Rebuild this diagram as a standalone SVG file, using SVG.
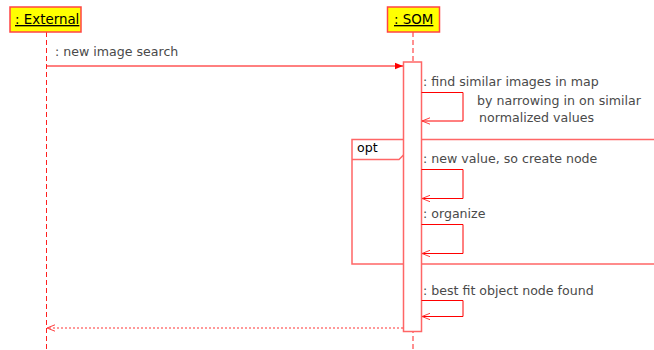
<svg xmlns="http://www.w3.org/2000/svg" width="654" height="350" viewBox="0 0 654 350">
<style>
text{font-family:"DejaVu Sans",sans-serif;font-size:12.6px;fill:#4a4a4a}
.obj{fill:#ffff00;stroke:#ff4444;stroke-width:1.5}
.objt{fill:#000;font-size:13.4px;text-decoration:underline}
.life{stroke:#ff2020;stroke-width:1;stroke-dasharray:5,3;fill:none}
.act{fill:#fff;stroke:#ff6666;stroke-width:1.5}
.msg{stroke:#ff0000;stroke-width:1;fill:none}
.ret{stroke:#ff3333;stroke-width:1;stroke-dasharray:2,2;fill:none}
.frame{fill:none;stroke:#ff6666;stroke-width:1.5}
</style>
<defs>
<marker id="filled" viewBox="0 0 10 10" refX="10" refY="5" markerWidth="8" markerHeight="8" markerUnits="userSpaceOnUse" orient="auto"><path d="M0,1 L10,5 L0,9 z" fill="#ff0000"/></marker>
<marker id="open" viewBox="0 0 10 10" refX="10" refY="5" markerWidth="8" markerHeight="8" markerUnits="userSpaceOnUse" orient="auto"><path d="M0,1 L10,5 L0,9" fill="none" stroke="#ff3333" stroke-width="1.2"/></marker>
</defs>
<g id="external">
<line class="life" x1="46.5" y1="32" x2="46.5" y2="350"/>
<rect class="obj" x="10" y="7" width="71" height="25"/>
<text class="objt" x="15" y="24">: External</text>
</g>
<g id="som">
<line class="life" x1="413" y1="32" x2="413" y2="350"/>
<rect class="obj" x="387.5" y="7" width="52" height="25"/>
<text class="objt" x="394" y="24">: SOM</text>
</g>
<g id="opt">
<path class="frame" d="M654,139.5 H352 V264 H654"/>
<path class="frame" d="M352,159.5 H399 L409,149.5 V139.5"/>
<text x="357" y="152" style="fill:#000">opt</text>
</g>
<g id="activation">
<rect class="act" x="403.5" y="62" width="18" height="269.5"/>
</g>
<g id="connectors">
<line class="msg" x1="47" y1="66" x2="403" y2="66" marker-end="url(#filled)"/>
<text x="55" y="56">: new image search</text>
<path class="msg" d="M421.5,92.5 H463 V121 H422" marker-end="url(#open)"/>
<text x="423" y="86">: find similar images in map</text>
<text x="477" y="105">by narrowing in on similar</text>
<text x="479" y="122">normalized values</text>
<path class="msg" d="M421.5,169.5 H463 V198.5 H422" marker-end="url(#open)"/>
<text x="423" y="163">: new value, so create node</text>
<path class="msg" d="M421.5,224.5 H463 V253.5 H422" marker-end="url(#open)"/>
<text x="423" y="218">: organize</text>
<path class="msg" d="M421.5,300.5 H463 V316.5 H422" marker-end="url(#open)"/>
<text x="423" y="295">: best fit object node found</text>
<line class="ret" x1="403" y1="328" x2="47" y2="328" marker-end="url(#open)"/>
</g>
</svg>
